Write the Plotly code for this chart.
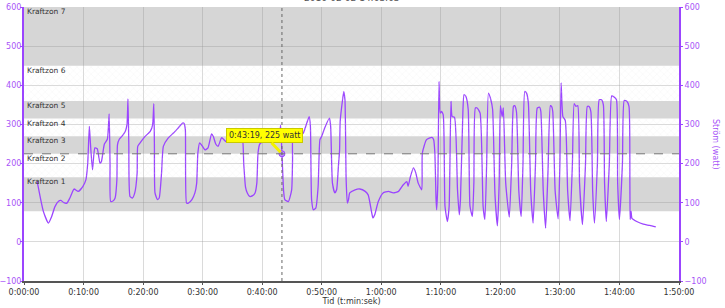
import plotly.graph_objects as go

# ---------------- data ----------------
minutes = [2.2, 2.7, 3.25, 4.1, 4.65, 5.2, 5.8, 6.2, 6.7, 7.2, 7.7, 8.4, 9.1, 9.9, 10.4, 10.7,
           10.97, 11.1, 11.5, 11.9, 12.3, 12.76, 13.0, 13.5, 14.0, 14.3, 14.45, 14.56, 15.0, 15.3,
           15.6, 15.7, 16.0, 16.4, 17.0, 17.3, 17.46, 17.6, 17.8, 18.2, 18.6, 19.0, 19.1, 19.5,
           20.3, 21.2, 21.6, 21.8, 21.9, 22.0, 22.4, 22.7, 23.1, 23.4, 24.2, 25.1, 25.9, 26.7,
           26.9, 27.1, 27.3, 27.6, 28.2, 28.7, 29.0, 29.2, 29.5, 29.8, 30.4, 30.9, 31.5, 31.8,
           32.2, 32.6, 33.2, 34.0, 35.5, 36.6, 36.9, 37.2, 37.5, 37.9, 38.4, 38.8, 39.1, 39.3,
           39.6, 40.5, 41.5, 42.0, 42.9, 43.1, 43.32, 43.6, 43.8, 44.4, 44.95, 45.1, 45.2, 46.1,
           46.9, 47.5, 47.9, 48.1, 48.3, 48.6, 49.0, 49.4, 49.7, 50.0, 50.5, 51.3, 51.5, 51.8,
           52.2, 52.5, 52.8, 53.0, 53.1, 53.5, 53.7, 53.9, 54.1, 54.3, 54.5, 54.7, 55.6, 56.4,
           57.3, 57.8, 58.4, 58.6, 58.9, 59.5, 60.3, 61.2, 62.0, 62.9, 63.7, 64.3, 64.5, 64.9,
           65.4, 65.8, 66.2, 66.8, 66.9, 67.6, 68.5, 68.8, 69.0, 69.2, 69.3, 69.5, 69.7, 69.9,
           70.1, 70.4, 70.7, 71.1, 71.4, 71.7, 71.9, 72.3, 72.8, 73.1, 73.3, 73.7, 73.9, 74.2,
           74.6, 74.9, 75.3, 75.55, 75.8, 76.1, 76.6, 77.1, 77.4, 77.7, 78.0, 78.4, 78.7, 79.1,
           79.5, 79.8, 80.0, 80.3, 80.5, 80.9, 81.5, 81.9, 82.2, 82.4, 82.7, 83.1, 83.5, 83.8,
           84.1, 84.4, 84.7, 85.1, 85.5, 85.9, 86.2, 86.6, 86.8, 87.2, 87.6, 88.0, 88.4, 88.6,
           88.8, 89.2, 89.7, 90.0, 90.2, 90.5, 90.9, 91.3, 91.7, 92.1, 92.4, 92.7, 93.0, 93.3,
           93.8, 94.3, 94.6, 94.9, 95.2, 95.5, 95.8, 96.3, 96.6, 97.0, 97.3, 97.5, 97.8, 98.3,
           98.7, 99.1, 99.5, 99.7, 100.0, 100.5, 100.8, 101.2, 101.6, 101.75, 101.8, 101.95,
           102.1, 102.9, 104.0, 105.1, 106.1]
watts = [155, 116, 78, 48, 65, 90, 104, 106, 100, 99, 112, 135, 129, 142, 159, 200,
         295, 265, 184, 240, 238, 201, 205, 250, 262, 327, 200, 103, 105, 112,
         159, 248, 262, 269, 282, 300, 365, 250, 116, 112, 125, 176, 244, 253,
         269, 282, 299, 353, 250, 125, 108, 112, 176, 244, 265, 278, 291, 304,
         302, 286, 99, 99, 108, 125, 150, 227, 253, 248, 235, 240, 276, 269,
         250, 244, 266, 255, 262, 270, 200, 140, 125, 116, 118, 125, 150, 227,
         250, 258, 262, 262, 275, 298, 225, 130, 108, 103, 133, 210, 275, 269,
         278, 304, 320, 295, 108, 82, 86, 142, 261, 270, 291, 316, 295, 150,
         125, 133, 193, 235, 308, 363, 384, 363, 159, 99, 108, 125, 133, 135,
         129, 120, 74, 61, 69, 103, 125, 129, 125, 129, 146, 154, 142, 167,
         189, 176, 150, 133, 227, 261, 267, 261, 227, 108, 82, 150, 410, 329,
         333, 325, 91, 52, 91, 359, 320, 318, 133, 69, 108, 330, 376, 372,
         338, 91, 65, 150, 342, 342, 329, 91, 57, 200, 380, 363, 338, 120,
         41, 150, 348, 320, 342, 150, 63, 200, 346, 348, 333, 130, 65, 200,
         384, 380, 355, 130, 48, 200, 342, 344, 333, 130, 35, 180, 348, 346,
         333, 130, 59, 200, 406, 320, 310, 130, 54, 200, 353, 346, 348, 150,
         44, 200, 346, 346, 333, 130, 48, 200, 363, 363, 350, 150, 52, 200,
         373, 370, 363, 150, 57, 200, 361, 360, 346, 150, 57, 78,
         60, 52, 45, 42, 38]

zone_names = ["Kraftzon 1", "Kraftzon 2", "Kraftzon 3", "Kraftzon 4",
              "Kraftzon 5", "Kraftzon 6", "Kraftzon 7"]
zone_low = [78, 165, 225, 270, 315, 360, 450]
zone_high = [165, 225, 270, 315, 360, 450, 600]
zone_hatched = [False, True, False, True, False, True, False]

x_tick_vals = [0, 10, 20, 30, 40, 50, 60, 70, 80, 90, 100, 110]
x_tick_text = ["0:00:00", "0:10:00", "0:20:00", "0:30:00", "0:40:00", "0:50:00",
               "1:00:00", "1:10:00", "1:20:00", "1:30:00", "1:40:00", "1:50:00"]
y_tick_vals = [-100, 0, 100, 200, 300, 400, 500, 600]

marker_min = 43.32
marker_watt = 225
marker_label = "0:43:19, 225 watt"
title_text = "2016-02-02 14:03:03"

# ---------------- styles ----------------
PURPLE = "#9b45ff"
PURPLE_TXT = "#a855f7"
BAND_GRAY = "#d6d6d6"
FONT = "DejaVu Sans"

fig = go.Figure()

# hatched (white) zones as patterned bars on a hidden overlay axis
hl = [lo for lo, h in zip(zone_low, zone_hatched) if h]
hh = [hi for hi, h in zip(zone_high, zone_hatched) if h]
fig.add_trace(go.Bar(
    x=[0.5] * len(hl), y=[b - a for a, b in zip(hl, hh)], base=hl, width=1,
    xaxis="x2", yaxis="y",
    marker=dict(color="rgba(255,255,255,0)", line=dict(width=0),
                pattern=dict(shape="x", fgcolor="#e2e2e2", size=5, solidity=0.12)),
    hoverinfo="skip", showlegend=False))

# gray zones as shapes below grid
for lo, hi, h in zip(zone_low, zone_high, zone_hatched):
    if not h:
        fig.add_shape(type="rect", xref="paper", yref="y", x0=0, x1=1, y0=lo, y1=hi,
                      fillcolor=BAND_GRAY, line=dict(width=0), layer="below")

# zone labels
for name, hi in zip(zone_names, zone_high):
    fig.add_annotation(x=0, xref="paper", xanchor="left", xshift=1,
                       y=hi, yref="y", yanchor="top", yshift=2,
                       text=name, showarrow=False,
                       font=dict(family=FONT, size=7.5, color="#333333"))

# power line
fig.add_trace(go.Scatter(x=minutes, y=watts, mode="lines",
                         line=dict(color=PURPLE, width=1.3, shape="spline", smoothing=0.5),
                         hoverinfo="skip", showlegend=False))

# crosshair
fig.add_shape(type="line", xref="paper", yref="y", x0=0, x1=1, y0=marker_watt, y1=marker_watt,
              line=dict(color="#777777", width=1, dash="dash"))
fig.add_shape(type="line", xref="x", yref="paper", x0=marker_min, x1=marker_min, y0=0, y1=1,
              line=dict(color="#666666", width=1, dash="dot"))

# highlighted point
fig.add_trace(go.Scatter(x=[marker_min], y=[marker_watt], mode="markers",
                         marker=dict(size=6, color="#b98bff", line=dict(color=PURPLE, width=1)),
                         hoverinfo="skip", showlegend=False))

# tooltip
fig.add_annotation(x=marker_min, y=marker_watt, xref="x", yref="y",
                   text=marker_label, showarrow=True, arrowhead=0, arrowwidth=3,
                   arrowcolor="#f2f200", ax=-17, ay=-18, standoff=2,
                   bgcolor="#ffff00", bordercolor="#c9c900", borderwidth=1, borderpad=2,
                   font=dict(family=FONT, size=8, color="#333333"))

# right axis title (reads top to bottom)
fig.add_annotation(x=1, xref="paper", xanchor="center", xshift=37,
                   y=0.5, yref="paper", text="Ström (watt)", textangle=90,
                   showarrow=False, font=dict(family=FONT, size=8, color=PURPLE_TXT))

# title at the very top (mostly above the visible page, as in the reference)
fig.add_annotation(x=0.5, xref="paper", y=1, yref="paper", yanchor="bottom", yshift=2,
                   text=title_text, showarrow=False,
                   font=dict(family=FONT, size=9, color="#555555"))

grid_col = "rgba(150,150,150,0.35)"
fig.update_layout(
    width=725, height=308,
    margin=dict(l=24, r=46, t=7, b=27, autoexpand=False),
    paper_bgcolor="white", plot_bgcolor="white",
    barmode="overlay",
    font=dict(family=FONT, size=8, color="#333333"),
    xaxis=dict(range=[0, 110], tickvals=x_tick_vals, ticktext=x_tick_text,
               automargin=False,
               showgrid=True, gridcolor=grid_col, gridwidth=1, zeroline=False,
               showline=True, linecolor="#555555", linewidth=2,
               ticks="outside", ticklen=2, tickcolor="#555555",
               tickfont=dict(family=FONT, size=8, color="#333333"),
               title=dict(text="Tid (t:min:sek)", standoff=3,
                          font=dict(family=FONT, size=8, color="#333333"))),
    xaxis2=dict(overlaying="x", range=[0, 1], visible=False),
    yaxis=dict(range=[-100, 600], tickvals=y_tick_vals, automargin=False,
               showgrid=True, gridcolor=grid_col, gridwidth=1, zeroline=False,
               showline=True, linecolor=PURPLE, linewidth=2,
               ticks="outside", ticklen=2, tickcolor=PURPLE, ticklabelstandoff=-3,
               tickfont=dict(family=FONT, size=8, color=PURPLE_TXT)),
    yaxis2=dict(overlaying="y", side="right", range=[-100, 600], tickvals=y_tick_vals,
                automargin=False,
                showgrid=False, zeroline=False,
                showline=True, linecolor=PURPLE, linewidth=2,
                ticks="outside", ticklen=2, tickcolor=PURPLE,
                tickfont=dict(family=FONT, size=8, color=PURPLE_TXT)),
)
# dummy trace to show right axis
fig.add_trace(go.Scatter(x=[0], y=[0], yaxis="y2", mode="markers",
                         marker=dict(opacity=0), hoverinfo="skip", showlegend=False))

fig.write_html("out.html")
